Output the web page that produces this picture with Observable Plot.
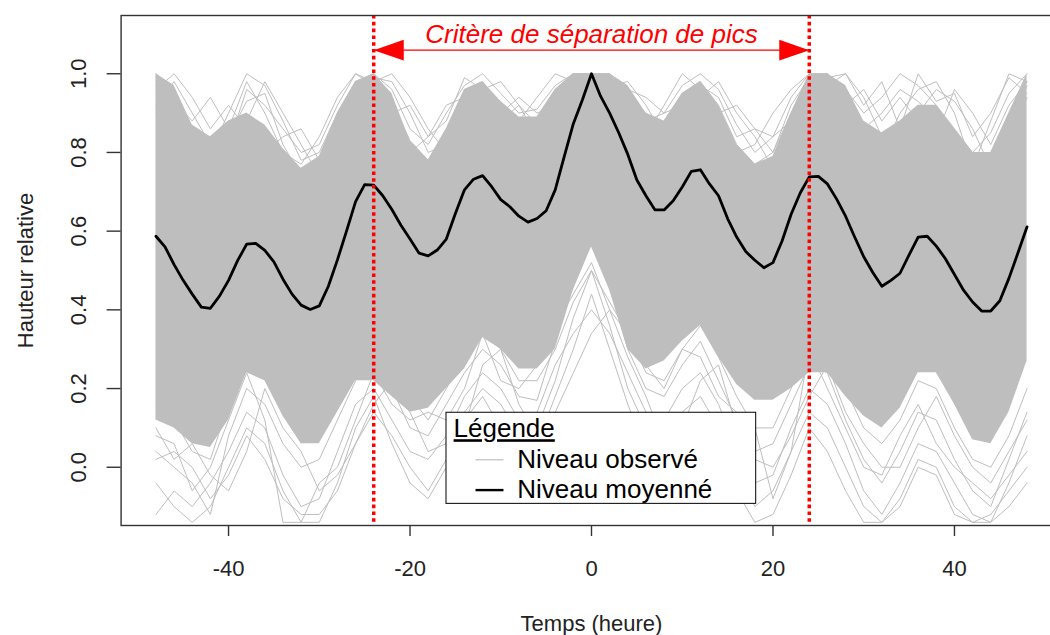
<!DOCTYPE html>
<html>
<head>
<meta charset="utf-8">
<script src="https://cdn.jsdelivr.net/npm/d3@7"></script>
<script src="https://cdn.jsdelivr.net/npm/@observablehq/plot@0.6"></script>
<style>
  html, body { margin: 0; padding: 0; background: #ffffff; }
  #chart svg { overflow: hidden; display: block; }
</style>
</head>
<body>
<div id="chart"></div>
<script>
// ---------- DATA ----------
// hourly time axis of the averaged level (hours)
const hoursMean = d3.range(-48, 49);
// averaged relative level, one value per hour from -48 to 48
const meanLevel = [
  0.587, 0.560, 0.515, 0.475, 0.440, 0.407, 0.404, 0.435, 0.475, 0.525,
  0.567, 0.569, 0.551, 0.522, 0.478, 0.440, 0.412, 0.401, 0.410, 0.460,
  0.527, 0.600, 0.675, 0.718, 0.717, 0.690, 0.655, 0.615, 0.580, 0.544,
  0.537, 0.552, 0.580, 0.645, 0.705, 0.732, 0.741, 0.713, 0.680, 0.662,
  0.638, 0.623, 0.632, 0.652, 0.705, 0.790, 0.873, 0.934, 1.000, 0.943,
  0.900, 0.850, 0.795, 0.730, 0.690, 0.654, 0.654, 0.677, 0.712, 0.752,
  0.756, 0.720, 0.690, 0.632, 0.585, 0.548, 0.526, 0.507, 0.520, 0.575,
  0.643, 0.697, 0.738, 0.739, 0.720, 0.682, 0.638, 0.585, 0.535, 0.495,
  0.460, 0.475, 0.493, 0.540, 0.585, 0.587, 0.562, 0.530, 0.490, 0.450,
  0.420, 0.397, 0.397, 0.423, 0.480, 0.545, 0.611
];

// observed levels: 2-hour sampling from -48 to 48
const hoursObs = d3.range(-48, 49, 2);
// upper and lower edge of the dense mass of observed curves
const observedUpper = [
  1.00, 0.97, 0.87, 0.84, 0.88, 0.90, 0.87, 0.81, 0.76, 0.79,
  0.90, 0.98, 1.00, 0.95, 0.83, 0.78, 0.86, 0.96, 0.98, 0.93,
  0.89, 0.89, 0.96, 1.00, 1.00, 1.00, 0.97, 0.90, 0.88, 0.95,
  0.98, 0.92, 0.82, 0.77, 0.79, 0.90, 1.00, 1.00, 0.97, 0.88,
  0.85, 0.88, 0.92, 0.92, 0.86, 0.80, 0.80, 0.90, 1.00
];
const observedLower = [
  0.12, 0.10, 0.06, 0.05, 0.12, 0.24, 0.22, 0.13, 0.06, 0.06,
  0.14, 0.22, 0.22, 0.18, 0.14, 0.15, 0.20, 0.25, 0.33, 0.30,
  0.25, 0.25, 0.30, 0.45, 0.56, 0.45, 0.30, 0.25, 0.27, 0.32,
  0.36, 0.28, 0.21, 0.17, 0.17, 0.20, 0.24, 0.24, 0.18, 0.13,
  0.10, 0.15, 0.24, 0.24, 0.16, 0.07, 0.06, 0.14, 0.27
];
// individual observed curves that stand out of the dense mass
const observedHigh1 = [
  1.00, 0.96, 0.84, 0.80, 0.90, 1.00, 0.97, 0.88, 0.78, 0.80,
  0.90, 0.98, 1.00, 0.96, 0.86, 0.82, 0.90, 0.97, 1.00, 0.95,
  0.90, 0.91, 0.97, 1.00, 1.00, 0.99, 0.95, 0.88, 0.90, 0.97,
  1.00, 0.96, 0.87, 0.80, 0.84, 0.94, 1.00, 1.00, 0.96, 0.90,
  0.94, 1.00, 0.97, 0.92, 0.86, 0.80, 0.85, 0.95, 1.00
];
const observedHigh2 = [
  0.97, 0.90, 0.77, 0.72, 0.84, 0.93, 0.95, 0.82, 0.74, 0.76,
  0.88, 0.97, 1.00, 0.93, 0.83, 0.78, 0.85, 0.94, 0.98, 0.92,
  0.86, 0.88, 0.95, 1.00, 1.00, 0.96, 0.90, 0.85, 0.87, 0.95,
  0.98, 0.92, 0.82, 0.77, 0.80, 0.90, 0.98, 1.00, 0.93, 0.85,
  0.80, 0.90, 0.96, 0.98, 0.90, 0.76, 0.72, 0.86, 0.97
];
const observedHigh3 = [
  0.99, 0.93, 0.88, 0.94, 0.86, 0.98, 0.90, 0.80, 0.77, 0.84,
  0.94, 1.00, 0.98, 0.90, 0.92, 0.84, 0.88, 0.99, 0.96, 0.88,
  0.92, 0.87, 0.93, 0.99, 1.00, 1.00, 0.92, 0.90, 0.86, 0.93,
  0.97, 0.94, 0.84, 0.86, 0.80, 0.92, 0.99, 0.97, 1.00, 0.92,
  0.98, 0.86, 1.00, 0.93, 0.95, 0.84, 0.90, 0.99, 0.95
];
const observedHigh4 = [
  0.92, 0.98, 0.90, 0.82, 0.78, 0.88, 0.98, 0.90, 0.82, 0.74,
  0.84, 0.94, 0.99, 0.98, 0.90, 0.80, 0.82, 0.90, 0.96, 0.98,
  0.92, 0.84, 0.90, 0.97, 1.00, 0.97, 0.98, 0.92, 0.84, 0.88,
  0.94, 0.98, 0.90, 0.84, 0.76, 0.86, 0.96, 0.99, 1.00, 0.94,
  0.84, 0.82, 0.90, 0.96, 0.93, 0.86, 0.76, 0.84, 0.94
];
const observedHigh5 = [
  0.96, 1.00, 0.94, 0.86, 0.92, 0.86, 0.80, 0.84, 0.86, 0.78,
  0.86, 0.96, 0.98, 1.00, 0.94, 0.86, 0.80, 0.88, 0.95, 0.90,
  0.94, 0.90, 0.92, 0.98, 0.99, 1.00, 0.96, 0.94, 0.90, 0.92,
  0.96, 0.90, 0.92, 0.86, 0.84, 0.88, 0.97, 0.98, 0.92, 0.96,
  0.88, 0.94, 0.88, 0.84, 0.96, 0.90, 0.82, 0.92, 0.98
];
const observedHigh6 = [
  0.90, 0.86, 0.80, 0.76, 0.82, 0.96, 0.92, 0.86, 0.80, 0.82,
  0.92, 1.00, 0.97, 0.88, 0.80, 0.84, 0.92, 0.94, 0.90, 0.86,
  0.88, 0.94, 1.00, 0.98, 0.96, 0.94, 0.90, 0.84, 0.92, 1.00,
  0.96, 0.88, 0.80, 0.82, 0.90, 0.96, 1.00, 0.95, 0.90, 0.86,
  0.90, 0.96, 0.93, 0.88, 0.82, 0.76, 0.88, 1.00, 0.98
];
const observedLow1 = [
  -0.12, -0.06, -0.10, -0.04, 0.04, 0.14, 0.10, -0.02, -0.10, -0.08,
  0.04, 0.16, 0.20, 0.12, 0.04, 0.02, 0.08, 0.18, 0.24, 0.20,
  0.12, 0.14, 0.26, 0.34, 0.40, 0.34, 0.24, 0.14, 0.12, 0.20,
  0.24, 0.16, 0.04, -0.04, -0.02, 0.10, 0.20, 0.16, 0.06, -0.06,
  -0.12, -0.04, 0.06, 0.04, -0.04, -0.12, -0.14, -0.04, 0.08
];
const observedLow2 = [
  0.04, 0.00, -0.04, -0.12, 0.08, 0.20, 0.16, 0.06, 0.00, 0.02,
  0.12, 0.22, 0.26, 0.20, 0.10, 0.08, 0.16, 0.24, 0.30, 0.26,
  0.18, 0.17, 0.32, 0.50, 0.60, 0.46, 0.30, 0.20, 0.18, 0.26,
  0.32, 0.22, 0.12, 0.04, 0.06, 0.16, 0.26, 0.24, 0.12, 0.02,
  -0.04, 0.04, 0.14, 0.12, 0.02, -0.06, -0.10, 0.02, 0.14
];
const observedLow3 = [
  0.08, 0.06, -0.06, 0.00, 0.12, 0.24, 0.12, -0.14, -0.14, -0.04,
  0.00, 0.12, 0.24, 0.16, 0.12, 0.14, 0.12, 0.20, 0.34, 0.22,
  0.20, 0.26, 0.36, 0.44, 0.52, 0.40, 0.34, 0.26, 0.20, 0.30,
  0.28, 0.18, 0.14, 0.10, -0.08, 0.04, 0.30, 0.20, 0.10, 0.00,
  -0.02, 0.08, 0.16, 0.06, 0.00, -0.04, -0.08, -0.02, 0.04
];
const observedLow4 = [
  0.02, 0.04, 0.00, -0.08, -0.02, 0.08, 0.02, -0.08, -0.12, -0.12,
  -0.06, 0.06, 0.14, 0.08, 0.00, -0.06, 0.02, 0.14, 0.20, 0.16,
  0.08, 0.10, 0.22, 0.38, 0.50, 0.36, 0.20, 0.10, 0.08, 0.14,
  0.18, 0.10, 0.00, -0.10, -0.06, 0.04, 0.14, 0.10, 0.00, -0.10,
  -0.14, -0.08, 0.02, 0.00, -0.10, -0.14, -0.12, -0.06, 0.00
];
const observedLow5 = [
  -0.04, -0.10, -0.14, -0.10, 0.00, 0.10, 0.06, -0.06, -0.14, -0.14,
  -0.04, 0.10, 0.18, 0.06, -0.04, -0.08, 0.00, 0.12, 0.18, 0.10,
  0.02, 0.06, 0.18, 0.30, 0.44, 0.30, 0.16, 0.04, 0.00, 0.08,
  0.14, 0.06, -0.06, -0.14, -0.12, -0.02, 0.10, 0.04, -0.06, -0.14,
  -0.14, -0.10, 0.00, -0.02, -0.12, -0.14, -0.14, -0.10, -0.04
];
const observedLow6 = [
  0.16, 0.12, 0.04, 0.02, 0.16, 0.30, 0.26, 0.16, 0.08, 0.10,
  0.20, 0.28, 0.30, 0.24, 0.18, 0.12, 0.20, 0.28, 0.36, 0.30,
  0.22, 0.22, 0.30, 0.42, 0.50, 0.42, 0.34, 0.24, 0.22, 0.30,
  0.36, 0.28, 0.18, 0.10, 0.10, 0.20, 0.32, 0.30, 0.20, 0.10,
  0.06, 0.12, 0.22, 0.20, 0.10, 0.02, 0.00, 0.08, 0.20
];
const observedLow7 = [
  0.10, 0.02, 0.06, -0.02, -0.06, 0.04, 0.20, 0.10, 0.04, -0.06,
  -0.02, 0.06, 0.16, 0.22, 0.14, 0.04, 0.06, 0.10, 0.26, 0.30,
  0.16, 0.08, 0.14, 0.24, 0.34, 0.40, 0.28, 0.18, 0.06, 0.10,
  0.22, 0.26, 0.10, 0.02, 0.00, 0.08, 0.18, 0.26, 0.14, 0.06,
  0.00, 0.00, 0.10, 0.18, 0.08, 0.00, -0.04, 0.04, 0.12
];

// separation criterion (hours) and axis ticks
const separation = [-24, 24];
const xTicks = [-40, -20, 0, 20, 40];
const yTicks = [0, 0.2, 0.4, 0.6, 0.8, 1.0];

// texts
const annotationText = "Critère de séparation de pics";
const legendTitle = "Légende";
const legendLabels = ["Niveau observé", "Niveau moyenné"];
const xTitle = "Temps (heure)";
const yTitle = "Hauteur relative";

// ---------- LAYOUT (positions in data units, styles) ----------
const layout = {
  arrowY: 1.06, textY: 1.10,
  legend: {x1: -15.98, x2: 18.15, y1: -0.093, y2: 0.1385,
           titleX: -15.2, titleY: 0.0975, lineX1: -12.78, lineX2: -9.70,
           textX: -8.19, rowsY: [0.019, -0.058]}
};
const greyCol = "#bebebe";
const font = "'Liberation Sans', Arial, Helvetica, sans-serif";

// ---------- TABLES built from the arrays ----------
const meanData = hoursMean.map((h, i) => ({h, v: meanLevel[i]}));
const envData = hoursObs.map((h, i) => ({h, lo: observedLower[i], hi: observedUpper[i]}));
const sparse = [observedHigh1, observedHigh2, observedHigh3, observedHigh4, observedHigh5, observedHigh6,
                observedLow1, observedLow2, observedLow3, observedLow4, observedLow5, observedLow6, observedLow7];
const sparseData = sparse.flatMap((s, k) => hoursObs.map((h, i) => ({id: k, h, v: s[i]})));
const legendRows = legendLabels.map((label, i) => ({label, y: layout.legend.rowsY[i], stroke: i === 0 ? greyCol : "black", w: i === 0 ? 1.2 : 2.4}));

// filled arrow heads (tip at the origin)
const headLeft = {draw(ctx) { ctx.moveTo(0, 0); ctx.lineTo(30, -10.3); ctx.lineTo(30, 10.3); ctx.closePath(); }};
const headRight = {draw(ctx) { ctx.moveTo(0, 0); ctx.lineTo(-30, -10.3); ctx.lineTo(-30, 10.3); ctx.closePath(); }};

const chart = Plot.plot({
  width: 1050,
  height: 635,
  marginLeft: 120.6,
  marginRight: -11.4,
  marginTop: 15,
  marginBottom: 110,
  x: {domain: [-51.84, 51.84]},
  y: {domain: [-0.148, 1.148]},
  style: {fontFamily: font, background: "#ffffff", overflow: "hidden"},
  marks: [
    Plot.line(sparseData, {x: "h", y: "v", z: "id", stroke: greyCol, strokeWidth: 1, clip: true}),
    Plot.areaY(envData, {x: "h", y1: "lo", y2: "hi", fill: greyCol}),
    Plot.line(meanData, {x: "h", y: "v", stroke: "black", strokeWidth: 2.8}),
    Plot.ruleX(separation, {stroke: "#ff0000", strokeWidth: 3.5, strokeDasharray: "3.6,3.2"}),
    Plot.link([separation], {x1: d => d[0], x2: d => d[1], y1: layout.arrowY, y2: layout.arrowY, stroke: "#ff0000", strokeWidth: 1.2}),
    Plot.dot([separation[0]], {x: d => d, y: layout.arrowY, symbol: headLeft, fill: "#ff0000", stroke: "none"}),
    Plot.dot([separation[1]], {x: d => d, y: layout.arrowY, symbol: headRight, fill: "#ff0000", stroke: "none"}),
    Plot.text([annotationText], {x: 0, y: layout.textY, text: d => d, fill: "#ff0000", fontStyle: "italic", fontSize: 26, textAnchor: "middle", lineAnchor: "middle"}),
    // legend
    Plot.rect([layout.legend], {x1: "x1", x2: "x2", y1: "y1", y2: "y2", fill: "white", stroke: "black", strokeWidth: 1}),
    Plot.text([legendTitle], {x: layout.legend.titleX, y: layout.legend.titleY, text: d => d, fontSize: 26, textAnchor: "start", lineAnchor: "middle", fill: "black"}),
    Plot.link(legendRows, {x1: layout.legend.lineX1, x2: layout.legend.lineX2, y1: "y", y2: "y", stroke: "stroke", strokeWidth: "w"}),
    Plot.text(legendRows, {x: layout.legend.textX, y: "y", text: "label", fontSize: 26, textAnchor: "start", lineAnchor: "middle", fill: "black"}),
    // frame and axes
    Plot.frame({stroke: "#333333", strokeWidth: 1.4}),
    Plot.axisX({ticks: xTicks, tickSize: 11, tickPadding: 24, tickFormat: d => String(d), fontSize: 22, label: null, stroke: "#333333", strokeWidth: 1.4, color: "#222"}),
    Plot.axisY({ticks: yTicks, tickSize: 14, tickFormat: () => "", label: null, stroke: "#333333", strokeWidth: 1.4}),
    Plot.text(yTicks, {y: d => d, text: d => d.toFixed(1), frameAnchor: "left", dx: -42.5, rotate: -90, fontSize: 22, textAnchor: "middle", lineAnchor: "middle", fill: "#222"}),
    Plot.text([yTitle], {text: d => d, frameAnchor: "left", dx: -95, rotate: -90, fontSize: 22, textAnchor: "middle", lineAnchor: "middle", fill: "#222"}),
    Plot.text([xTitle], {x: 0, text: d => d, frameAnchor: "bottom", dy: 89.5, fontSize: 22, textAnchor: "middle", lineAnchor: "top", fill: "#222"})
  ]
});

d3.select(chart).selectAll("text").filter(function () { return this.textContent === legendTitle; })
  .style("text-decoration", "underline");

document.getElementById("chart").appendChild(chart);
</script>
</body>
</html>
